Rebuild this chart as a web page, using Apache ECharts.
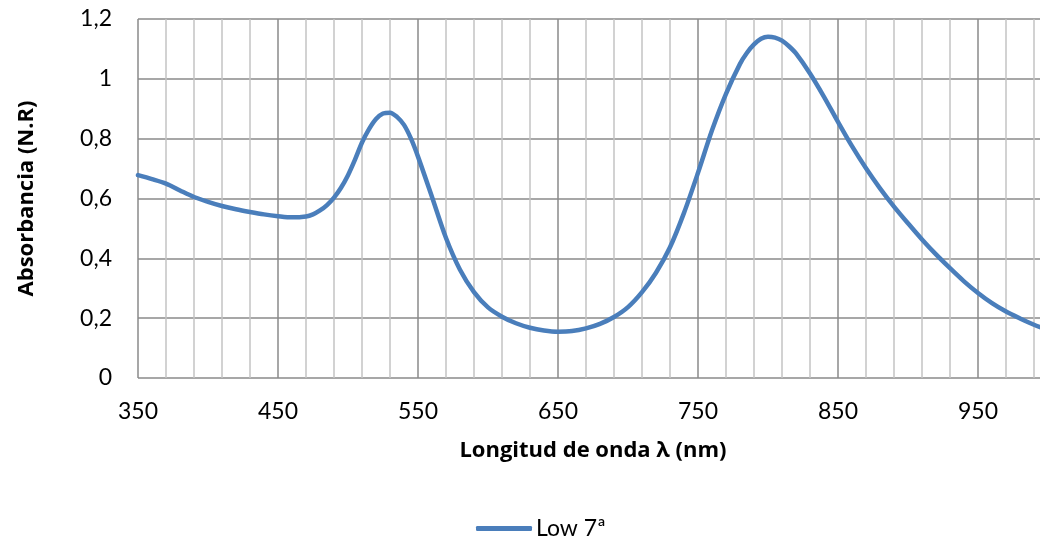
<!DOCTYPE html>
<html>
<head>
<meta charset="utf-8">
<script src="https://cdn.jsdelivr.net/npm/echarts@6/dist/echarts.min.js"></script>
<style>
  html, body { margin: 0; padding: 0; background: #fff; }
  #chart { width: 1040px; height: 536px; }
</style>
</head>
<body>
<div id="chart"></div>
<script>
// Absorption spectrum, wavelength in nm (10 nm steps, 5 nm around the bands)
const wavelengths = [
  350, 360, 370, 380, 390, 400, 410, 420, 430, 440,
  450, 460, 470, 475, 480, 485, 490, 495, 500, 505,
  510, 515, 520, 525, 530, 535, 540, 545, 550, 560,
  570, 580, 590, 600, 610, 620, 630, 640, 650, 660,
  670, 680, 690, 700, 710, 720, 730, 740, 750, 760,
  770, 780, 785, 790, 795, 800, 805, 810, 815, 820,
  830, 840, 850, 860, 870, 880, 890, 900, 910, 920,
  930, 940, 950, 960, 970, 980, 990, 1000
];
const absorbance = [
  0.678, 0.665, 0.650, 0.627, 0.605, 0.589, 0.575, 0.564, 0.555, 0.547,
  0.541, 0.537, 0.540, 0.547, 0.560, 0.578, 0.603, 0.636, 0.678, 0.730,
  0.787, 0.832, 0.866, 0.884, 0.887, 0.873, 0.846, 0.800, 0.740, 0.605,
  0.468, 0.362, 0.287, 0.236, 0.205, 0.183, 0.168, 0.159, 0.155, 0.157,
  0.166, 0.181, 0.204, 0.237, 0.287, 0.352, 0.437, 0.552, 0.686, 0.828,
  0.950, 1.050, 1.087, 1.115, 1.134, 1.141, 1.138, 1.128, 1.109, 1.085,
  1.018, 0.940, 0.856, 0.775, 0.701, 0.634, 0.573, 0.517, 0.463, 0.413,
  0.367, 0.323, 0.284, 0.250, 0.222, 0.199, 0.178, 0.160
];
const seriesName = 'Low 7ª';
const xTitle = 'Longitud de onda λ (nm)';
const yTitle = 'Absorbancia (N.R)';

const FONT = 'Lato';
const TITLE_FONT = 'Open Sans';
const MAJOR = '#8a8a8a';
const MINOR = '#c4c4c4';
const BLUE = '#4a7ebb';

const chart = echarts.init(document.getElementById('chart'), null, { renderer: 'canvas' });

// 100 nm = 140 px; the plot runs on past the right edge of the canvas
chart.setOption({
  animation: false,
  backgroundColor: '#ffffff',
  grid: {
    left: 138, top: 19, width: 980, bottom: 158,
    containLabel: false,
    outerBoundsMode: 'none'
  },
  legend: {
    data: [{ name: seriesName, icon: 'roundRect' }],
    left: 471,
    top: 512,
    itemWidth: 56,
    itemHeight: 5,
    itemGap: 10,
    textStyle: { fontFamily: FONT, fontSize: 23, color: '#000', padding: [0, 0, 0, -1] }
  },
  xAxis: {
    type: 'value',
    min: 350,
    max: 1050,
    interval: 100,
    name: xTitle,
    nameLocation: 'middle',
    nameGap: 62,
    // centred under the 350–1000 nm span rather than the full axis
    nameTextStyle: {
      fontFamily: TITLE_FONT, fontSize: 22, fontWeight: 'bold', color: '#000',
      padding: [0, 70, 0, 0]
    },
    axisLine: { show: false },
    axisTick: { show: false },
    axisLabel: {
      margin: 22,
      fontFamily: FONT, fontSize: 23, color: '#000',
      formatter: v => (v <= 1000 ? String(v) : '')
    },
    splitLine: { show: true, lineStyle: { color: MAJOR, width: 1.5 } },
    minorTick: { show: false, splitNumber: 5 },
    minorSplitLine: { show: true, lineStyle: { color: MINOR, width: 1.5 } }
  },
  yAxis: {
    type: 'value',
    min: 0,
    max: 1.2,
    interval: 0.2,
    name: yTitle,
    nameLocation: 'middle',
    nameGap: 100,
    nameTextStyle: { fontFamily: TITLE_FONT, fontSize: 22, fontWeight: 'bold', color: '#000' },
    axisLine: { show: false },
    axisTick: { show: false },
    axisLabel: {
      margin: 26,
      fontFamily: FONT, fontSize: 23, color: '#000',
      formatter: v => String(Math.round(v * 10) / 10).replace('.', ',')
    },
    splitLine: { show: true, lineStyle: { color: MAJOR, width: 1.5 } }
  },
  series: [{
    name: seriesName,
    type: 'line',
    data: wavelengths.map((w, i) => [w, absorbance[i]]),
    smooth: 0.3,
    showSymbol: false,
    symbol: 'none',
    lineStyle: { color: BLUE, width: 4.5, cap: 'round', join: 'round' },
    itemStyle: { color: BLUE }
  }]
});
</script>
</body>
</html>
